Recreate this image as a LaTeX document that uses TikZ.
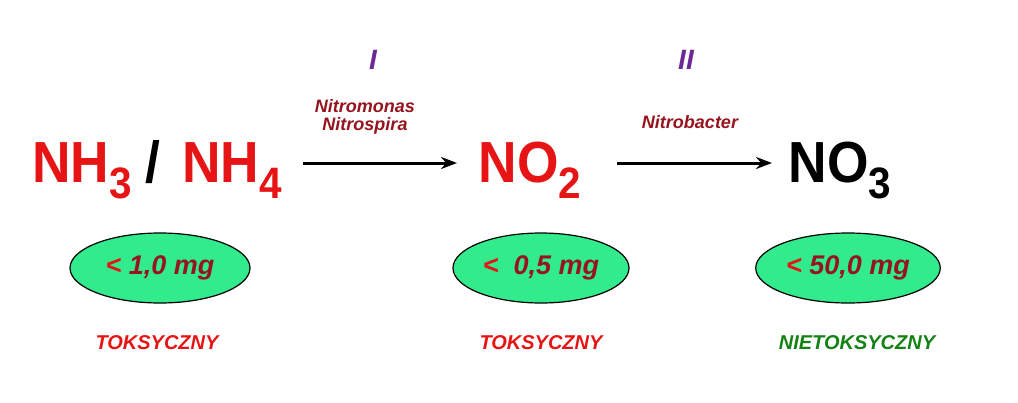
\documentclass[tikz,border=0pt]{standalone}
\usepackage{fontspec}
\setmainfont{Liberation Sans}
\definecolor{chemred}{RGB}{230,20,20}
\definecolor{bactred}{RGB}{150,20,30}
\definecolor{stagepurple}{RGB}{110,40,150}
\definecolor{limitgreen}{RGB}{50,235,140}
\definecolor{safegreen}{RGB}{20,130,20}
\tikzset{every picture/.style={line width=0.75pt}}
\tikzset{
  formula/.style={inner sep=0pt,anchor=base,xscale=0.92,font=\fontsize{58}{58}\selectfont\bfseries},
  bact/.style={inner sep=0.75pt,text=bactred,font=\fontsize{18}{20}\selectfont\bfseries\itshape,align=center},
  stage/.style={inner sep=0.75pt,text=stagepurple,font=\fontsize{28}{28}\selectfont\bfseries\itshape},
  limit/.style={ellipse,draw=black,line width=1.2pt,fill=limitgreen,minimum height=70,text=bactred,font=\fontsize{27}{27}\selectfont\bfseries\itshape},
  tox/.style={inner sep=0.75pt,font=\fontsize{20}{20}\selectfont\bfseries\itshape},
  reaction/.style={line width=3pt,-{Stealth[length=16pt,width=12pt]}}
}
\usetikzlibrary{shapes.geometric,arrows.meta}
\begin{document}
\begin{tikzpicture}[x=1pt,y=1pt,yscale=-1]
\useasboundingbox (0,0) rectangle (1018,402);

% formulas
\node[formula,text=chemred] (nh3) at (82,182) {NH\raisebox{-16pt}{\fontsize{44}{44}\selectfont 3}};
\node[formula] (slash) at (153,182) {/};
\node[formula,text=chemred] (nh4) at (232,182) {NH\raisebox{-16pt}{\fontsize{44}{44}\selectfont 4}};
\node[formula,text=chemred] (no2) at (530,182) {NO\raisebox{-16pt}{\fontsize{44}{44}\selectfont 2}};
\node[formula] (no3) at (840,182) {NO\raisebox{-16pt}{\fontsize{44}{44}\selectfont 3}};

% arrows
\coordinate (a1) at (303,163);
\coordinate (b1) at (457,163);
\coordinate (a2) at (617,163);
\coordinate (b2) at (772,163);
\draw[reaction] (a1) -- (b1);
\draw[reaction] (a2) -- (b2);

% bacteria
\node[stage] (st1) at (373,60) {I};
\node[stage] (st2) at (686,60) {II};
\node[bact] (nitro1) at (365,117) {Nitromonas\\[-2pt]Nitrospira};
\node[bact] (nitro2) at (690,122) {Nitrobacter};

% limits
\node[limit,minimum width=180] (lim1) at (160,268) {\textcolor{chemred}{<} 1,0 mg};
\node[limit,minimum width=176] (lim2) at (541,268) {\textcolor{chemred}{<}\ \ 0,5 mg};
\node[limit,minimum width=162] (lim3) at (848,268) {\textcolor{chemred}{<} 50,0 mg};

% toxicity
\node[tox,text=chemred] (tox1) at (157,343) {TOKSYCZNY};
\node[tox,text=chemred] (tox2) at (541,343) {TOKSYCZNY};
\node[tox,text=safegreen] (tox3) at (857,343) {NIETOKSYCZNY};
\end{tikzpicture}
\end{document}
